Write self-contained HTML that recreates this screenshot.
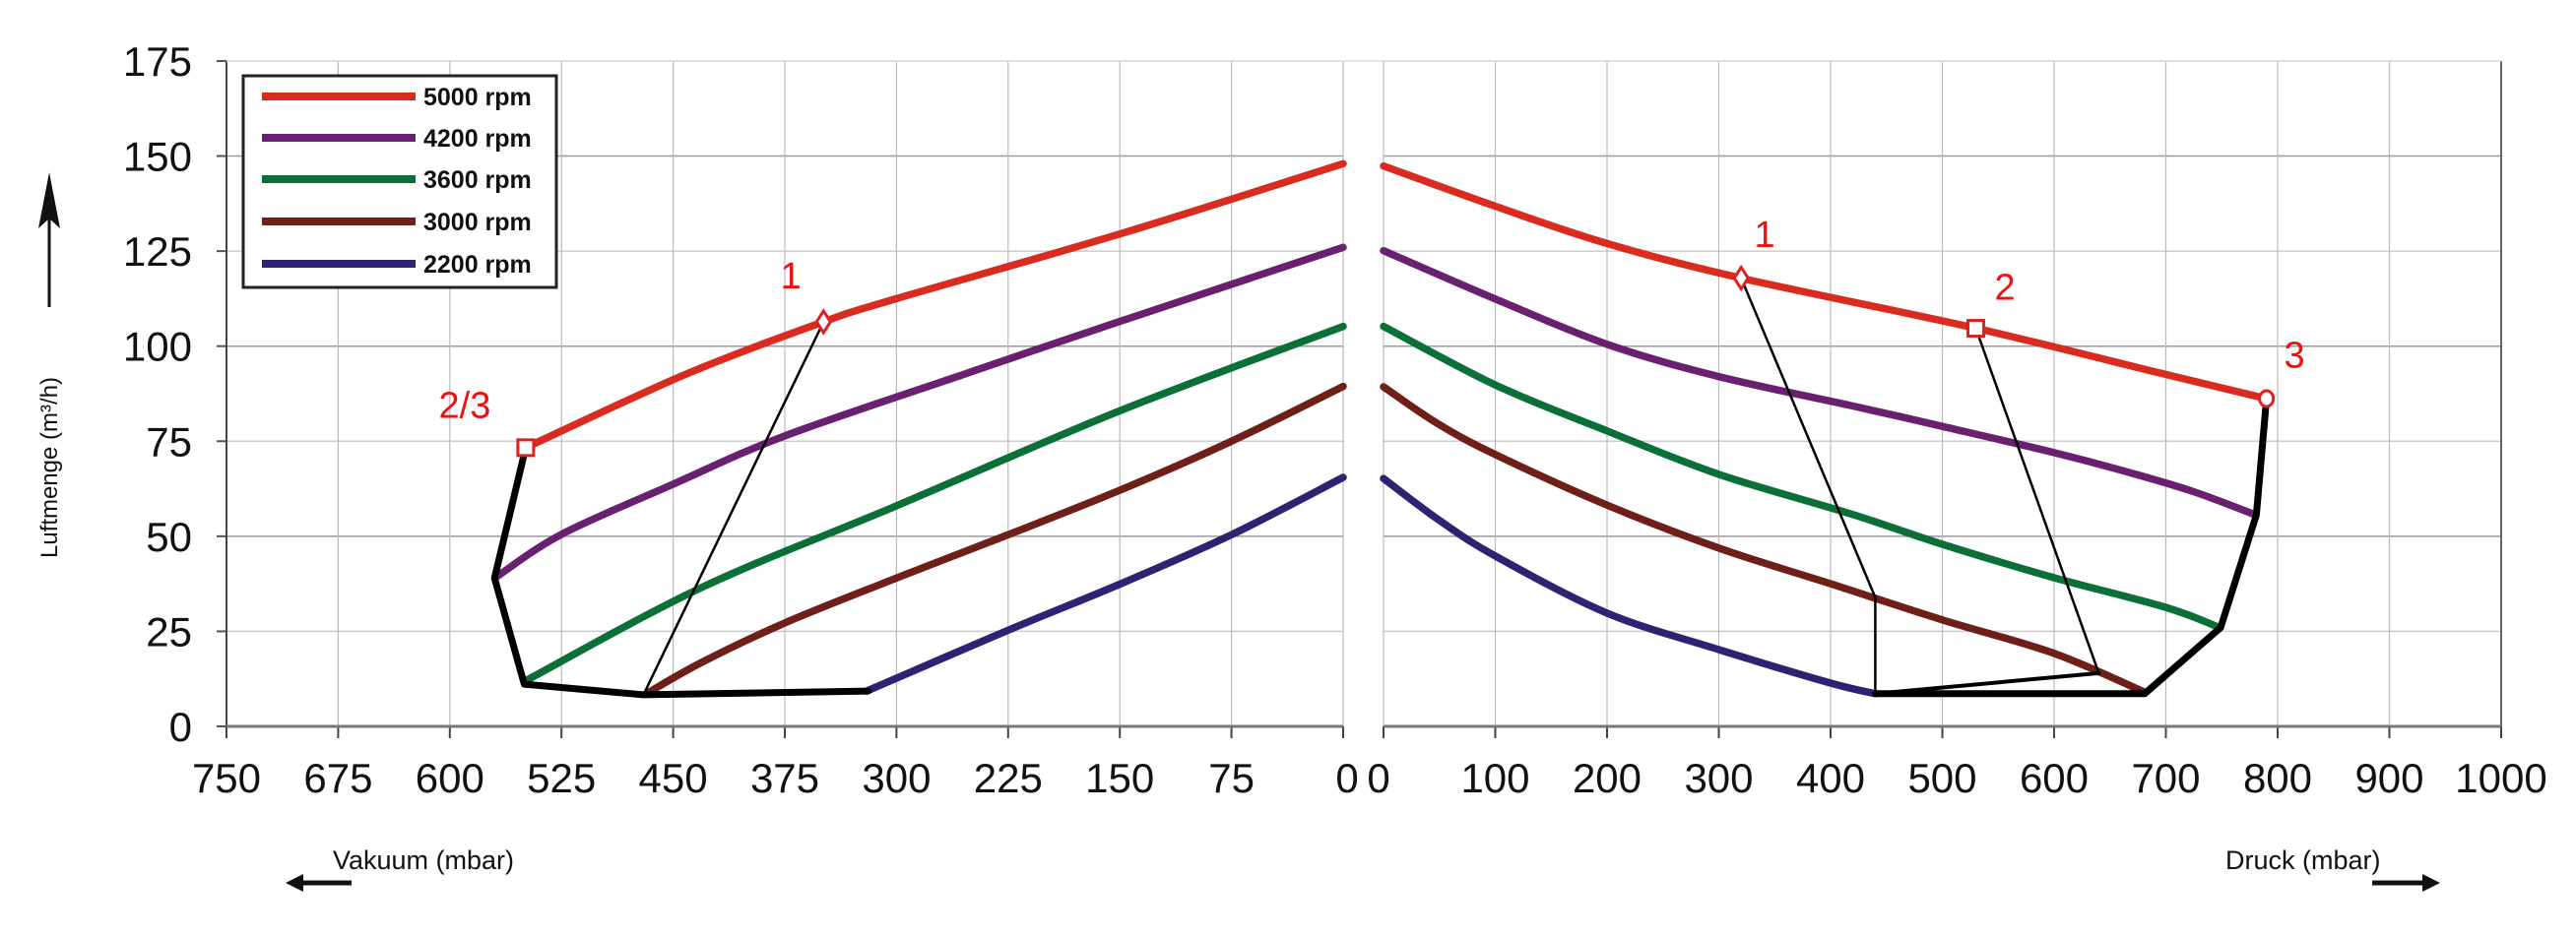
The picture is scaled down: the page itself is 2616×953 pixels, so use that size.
<!DOCTYPE html>
<html><head><meta charset="utf-8">
<style>
html,body{margin:0;padding:0;background:#fff;}
svg{display:block;}
text{font-family:"Liberation Sans",Arial,sans-serif;}
</style></head>
<body>
<svg id="s" width="2616" height="953" viewBox="0 0 2616 953" xmlns="http://www.w3.org/2000/svg">
<rect width="2616" height="953" fill="#fff"/>
<g id="grid"></g>
<g id="curves"></g>
<g id="fg"></g>
<!-- legend -->
<rect x="247" y="77" width="318" height="215" fill="#fff" stroke="#222" stroke-width="3"/>
<line x1="266" y1="98" x2="422" y2="98" stroke="#d92b20" stroke-width="8"/>
<line x1="266" y1="140" x2="422" y2="140" stroke="#6a2070" stroke-width="8"/>
<line x1="266" y1="182" x2="422" y2="182" stroke="#0a7038" stroke-width="8"/>
<line x1="266" y1="225" x2="422" y2="225" stroke="#6e2018" stroke-width="8"/>
<line x1="266" y1="268" x2="422" y2="268" stroke="#2c2473" stroke-width="8"/>
<g font-size="25" font-weight="bold" fill="#111">
<text x="430" y="107">5000 rpm</text>
<text x="430" y="149">4200 rpm</text>
<text x="430" y="191">3600 rpm</text>
<text x="430" y="234">3000 rpm</text>
<text x="430" y="277">2200 rpm</text>
</g>
<!-- y axis title & arrow -->
<text transform="translate(58,475) rotate(-90)" font-size="24" text-anchor="middle" fill="#111">Luftmenge (m³/h)</text>
<line x1="50" y1="312" x2="50" y2="215" stroke="#111" stroke-width="3"/>
<polygon points="50,175 39,232 50,222 61,232" fill="#111"/>
<!-- bottom labels -->
<text x="338" y="883" font-size="27" fill="#111">Vakuum (mbar)</text>
<line x1="305" y1="897" x2="357" y2="897" stroke="#111" stroke-width="5"/>
<polygon points="290,897 308,888 308,906" fill="#111"/>
<text x="2260" y="883" font-size="27" fill="#111">Druck (mbar)</text>
<line x1="2409" y1="897" x2="2462" y2="897" stroke="#111" stroke-width="5"/>
<polygon points="2478,897 2460,888 2460,906" fill="#111"/>
</svg>
<script>
var NS="http://www.w3.org/2000/svg";
function el(p,t,a,txt){var e=document.createElementNS(NS,t);for(var k in a)e.setAttribute(k,a[k]);if(txt!==undefined)e.textContent=txt;document.getElementById(p).appendChild(e);return e;}
function Y(q){return 738-q*3.863;}
function XL(v){return 1364-v*1.512;}
function XR(p){return 1405+p*1.135;}
// grid
for(var i=0;i<=7;i++){var y=Y(i*25);
 if(i>0){el("grid","line",{x1:230,y1:y,x2:1364,y2:y,stroke:(i%2==0?"#999":"#ccc"),"stroke-width":1.5});
 el("grid","line",{x1:1405,y1:y,x2:2540,y2:y,stroke:(i%2==0?"#999":"#ccc"),"stroke-width":1.5});}
 el("grid","line",{x1:220,y1:y,x2:230,y2:y,stroke:"#555","stroke-width":2});
 el("grid","text",{x:195,y:y+15,"font-size":42,"text-anchor":"end",fill:"#111"},String(i*25));
}
for(var i=0;i<=10;i++){var v=750-i*75,x=XL(v);
 if(i>0)el("grid","line",{x1:x,y1:62,x2:x,y2:738,stroke:"#bbb","stroke-width":1.2});
 el("grid","line",{x1:x,y1:738,x2:x,y2:750,stroke:"#444","stroke-width":2});
 el("grid","text",{x:(v==0?1368:x),y:805,"font-size":42,"text-anchor":"middle",fill:"#111"},String(v));
}
for(var i=0;i<=10;i++){var p=i*100,x=XR(p);
 el("grid","line",{x1:x,y1:62,x2:x,y2:738,stroke:(i==10?"#666":"#bbb"),"stroke-width":(i==10?2:1.2)});
 el("grid","line",{x1:x,y1:738,x2:x,y2:750,stroke:"#444","stroke-width":2});
 el("grid","text",{x:(p==0?1400:x),y:805,"font-size":42,"text-anchor":"middle",fill:"#111"},String(p));
}
el("grid","line",{x1:230,y1:62,x2:230,y2:738,stroke:"#444","stroke-width":2});
el("grid","line",{x1:230,y1:62,x2:2540,y2:62,stroke:"#ddd","stroke-width":1.5});
el("grid","line",{x1:230,y1:738,x2:1364,y2:738,stroke:"#777","stroke-width":3});
el("grid","line",{x1:1405,y1:738,x2:2540,y2:738,stroke:"#777","stroke-width":3});

function cr(pts){var d="M"+pts[0][0].toFixed(1)+","+pts[0][1].toFixed(1);
 for(var i=0;i<pts.length-1;i++){var p0=pts[i-1]||pts[i],p1=pts[i],p2=pts[i+1],p3=pts[i+2]||p2;
  var c1=[p1[0]+(p2[0]-p0[0])/6,p1[1]+(p2[1]-p0[1])/6],c2=[p2[0]-(p3[0]-p1[0])/6,p2[1]-(p3[1]-p1[1])/6];
  d+=" C"+c1[0].toFixed(1)+","+c1[1].toFixed(1)+" "+c2[0].toFixed(1)+","+c2[1].toFixed(1)+" "+p2[0].toFixed(1)+","+p2[1].toFixed(1);}
 return d;}
function curve(data,fx,col){var pts=data.map(function(a){return [fx(a[0]),Y(a[1])];});
 el("curves","path",{d:cr(pts),fill:"none",stroke:col,"stroke-width":7.5,"stroke-linecap":"round","stroke-linejoin":"round"});}
var C={r:"#d92b20",p:"#6a2070",g:"#0a7038",b:"#6e2018",u:"#2c2473"};
// left
curve([[0,148],[150,129.5],[300,112.5],[349,106.4],[441,92.7],[549,73.3]],XL,C.r);
curve([[0,126],[150,106.5],[254,92.7],[375,76.4],[450,63.7],[525,50.5],[568,39.5]],XL,C.p);
curve([[0,105.2],[150,83],[300,58],[431,36.5],[549,12]],XL,C.g);
curve([[0,89.4],[75,75],[150,62.1],[225,50.4],[300,39],[375,27.2],[431,16.8],[468,8.6]],XL,C.b);
curve([[0,65.5],[75,50.4],[150,37.4],[225,25.3],[320,9.3]],XL,C.u);
// right
curve([[0,147.4],[100,136.8],[200,127],[320,117.9],[530,104.7],[698,92.7],[790,86.2]],XR,C.r);
curve([[0,125.1],[100,112.4],[200,100.5],[300,92],[418,84.4],[500,78.9],[600,72],[673,66.3],[726,61.6],[778,55.9]],XR,C.p);
curve([[0,105.2],[100,89.8],[200,77.7],[300,66.3],[418,55.9],[500,47.9],[600,39.1],[700,31.3],[748,26]],XR,C.g);
curve([[0,89.3],[48,79.7],[100,71.5],[200,58.2],[300,46.9],[400,37.5],[500,28],[600,19.2],[681,9]],XR,C.b);
curve([[0,65.2],[48,54.6],[100,44.8],[200,29.8],[300,20.2],[400,11.4],[440,8.6]],XR,C.u);

function pl(pts,fx,w){el("fg","polyline",{points:pts.map(function(a){return fx(a[0]).toFixed(1)+","+Y(a[1]).toFixed(1);}).join(" "),fill:"none",stroke:"#000","stroke-width":w,"stroke-linejoin":"round","stroke-linecap":"round"});}
// left black
pl([[549,73.3],[570,39],[550,11.1],[470,8.3],[319,9.3]],XL,7);
pl([[349,106.4],[470,8.3]],XL,2.5);
// right black
pl([[440,8.6],[681,8.6],[749,26],[781,55.6],[790,86.2]],XR,7);
pl([[320,117.9],[440,33.9],[440,8.6]],XR,2.5);
pl([[440,8.6],[640,14]],XR,4);
pl([[640,14],[530,104.7]],XR,2.5);
// markers
function diamond(x,y){el("fg","polygon",{points:(x)+","+(y-11)+" "+(x+7)+","+y+" "+x+","+(y+11)+" "+(x-7)+","+y,fill:"#fff",stroke:"#e02020","stroke-width":3});}
diamond(XL(349),Y(106.4));
el("fg","rect",{x:XL(549)-8,y:Y(73.3)-8,width:16,height:16,fill:"#fff",stroke:"#e02020","stroke-width":3});
diamond(XR(320),Y(117.9));
el("fg","rect",{x:XR(530)-8,y:Y(104.7)-8,width:16,height:16,fill:"#fff",stroke:"#e02020","stroke-width":3});
el("fg","ellipse",{cx:XR(790),cy:Y(86.2),rx:7,ry:8,fill:"#fff",stroke:"#e02020","stroke-width":3});
// red labels
function lab(x,q,t){el("fg","text",{x:x,y:Y(q)+14,"font-size":38,"text-anchor":"middle",fill:"#f01010"},t);}
lab(XL(371),118.8,"1");lab(XL(590),84.8,"2/3");
lab(XR(341),129.7,"1");lab(XR(556),115.9,"2");lab(XR(815),98,"3");
</script>
</body></html>
